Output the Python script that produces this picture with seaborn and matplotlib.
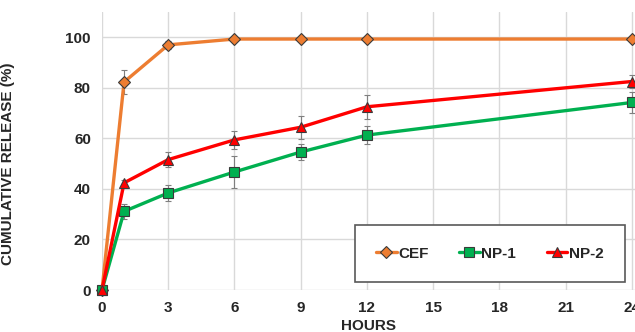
import pandas as pd
import matplotlib
matplotlib.use("Agg")
import matplotlib.pyplot as plt
import seaborn as sns

# cumulative release data
hours = [0, 1, 3, 6, 9, 12, 24]
series_names = ["CEF", "NP-1", "NP-2"]
cef = [0, 82.3, 97.0, 99.3, 99.3, 99.3, 99.3]
cef_err = [0, 4.6, 1.5, 0, 0, 0, 0]
np1 = [0, 31.1, 38.4, 46.7, 54.6, 61.3, 74.2]
np1_err = [0, 3.0, 3.3, 6.5, 3.0, 3.5, 4.3]
np2 = [0, 42.4, 51.6, 59.4, 64.4, 72.5, 82.5]
np2_err = [0, 1.0, 2.9, 3.7, 4.5, 4.7, 2.6]
x_ticks = [0, 3, 6, 9, 12, 15, 18, 21, 24]
y_ticks = [0, 20, 40, 60, 80, 100]

sns.set_style("whitegrid")
plt.rcParams["font.family"] = ["Liberation Sans", "DejaVu Sans"]
plt.rcParams["font.weight"] = "bold"

colors = {"CEF": "#ED7D31", "NP-1": "#00B050", "NP-2": "#FF0000"}
markers = {"CEF": "D", "NP-1": "s", "NP-2": "^"}
msizes = {"CEF": 6.5, "NP-1": 7, "NP-2": 7}

df = pd.DataFrame({
    "hours": hours * 3,
    "release": cef + np1 + np2,
    "err": cef_err + np1_err + np2_err,
    "sample": [n for n in series_names for _ in hours],
})

fig = plt.figure(figsize=(6.35, 3.32), dpi=100)
ax = fig.add_axes([102 / 635, 42 / 332, 533 / 635, 278 / 332])

for name in series_names:
    sub = df[df["sample"] == name]
    ax.errorbar(sub["hours"], sub["release"], yerr=sub["err"], fmt="none",
                ecolor="#7f7f7f", elinewidth=0.8, capsize=2, capthick=0.8,
                zorder=2)
    sns.lineplot(data=sub, x="hours", y="release", ax=ax, color=colors[name],
                 lw=2.4, marker=markers[name], markersize=msizes[name],
                 markerfacecolor=colors[name], markeredgecolor="#3a3a3a",
                 markeredgewidth=0.8, label=name, clip_on=False, zorder=3)

ax.set_xlim(0, 24.14)
ax.set_ylim(0, 110)
ax.set_xticks(x_ticks)
ax.set_yticks(y_ticks)
ax.grid(True, color="#d9d9d9", lw=1)
for s in ax.spines.values():
    s.set_visible(False)
ax.tick_params(axis="both", length=0, labelsize=11)
ax.tick_params(axis="y", pad=8)
ax.tick_params(axis="x", pad=8)
for lab in ax.get_xticklabels() + ax.get_yticklabels():
    lab.set_fontweight("bold")

ax.set_xlabel("HOURS", fontsize=11, fontweight="bold")
ax.set_ylabel("CUMULATIVE RELEASE (%)", fontsize=11, fontweight="bold")
ax.xaxis.set_label_coords(0.5, -0.105)
ax.yaxis.set_label_coords(-0.163, 0.455)

leg = ax.legend(loc="lower right", bbox_to_anchor=(0.981, 0.029), ncol=3,
                frameon=True, fancybox=False, framealpha=1, borderpad=1.4,
                handlelength=1.35, handletextpad=0.1, columnspacing=2.0,
                borderaxespad=0, prop={"size": 11, "weight": "bold"})
leg.get_frame().set_edgecolor("#595959")
leg.get_frame().set_linewidth(1.2)

fig.savefig("out.png", dpi=100)
